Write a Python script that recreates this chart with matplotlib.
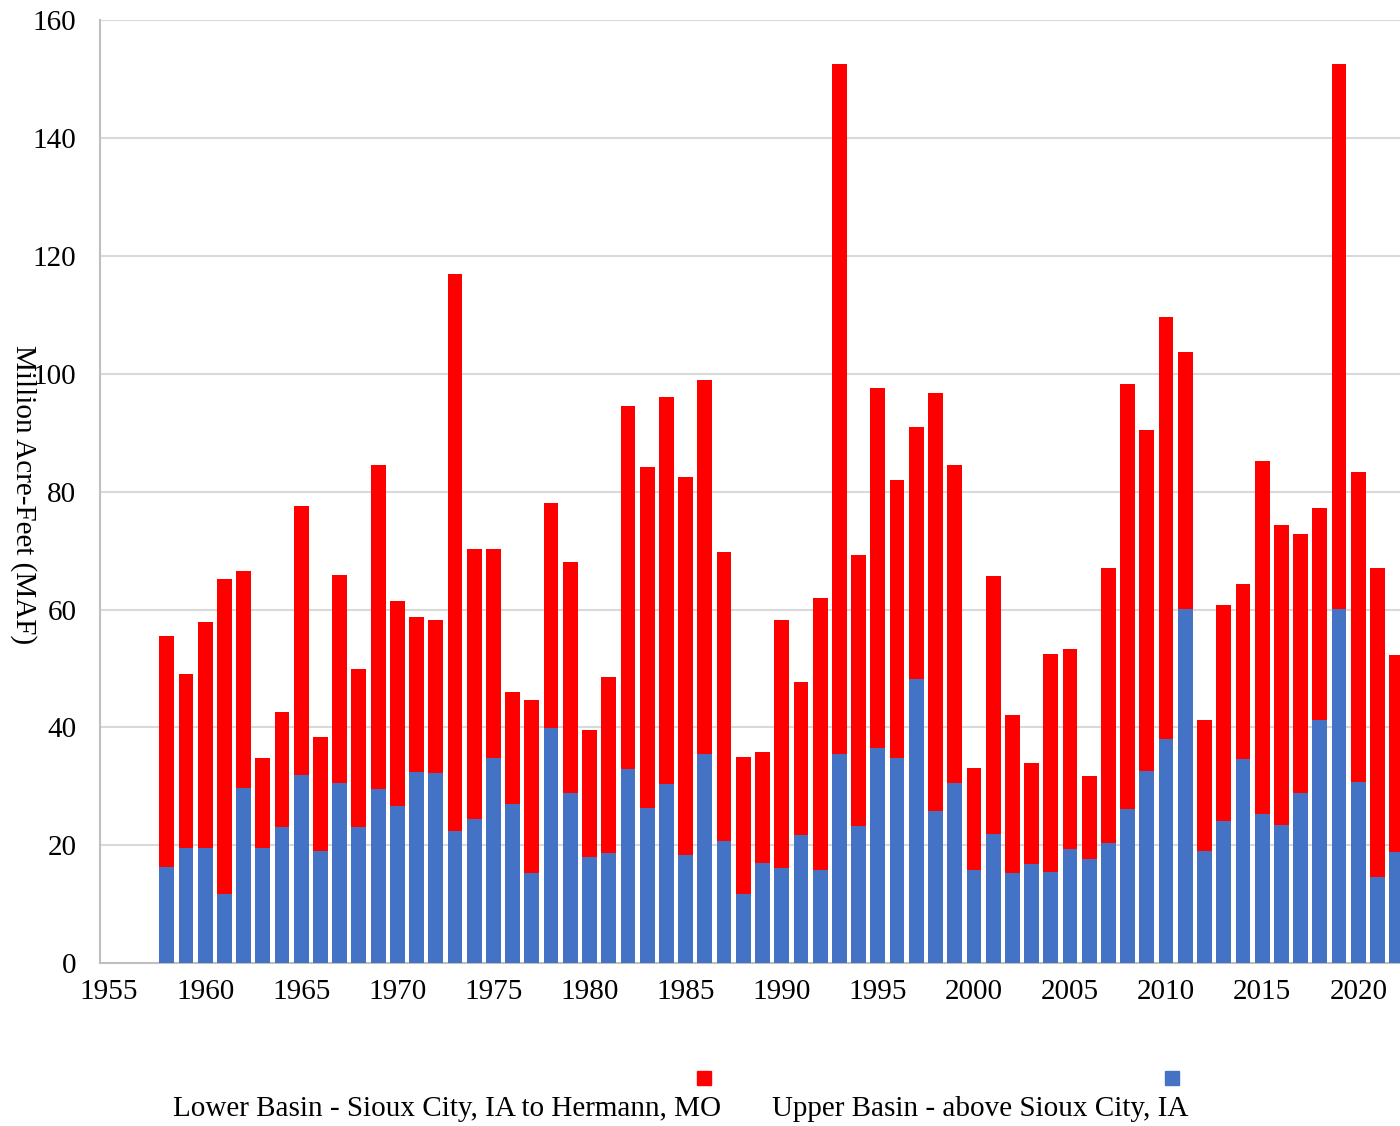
import matplotlib
matplotlib.use("Agg")
import matplotlib.pyplot as plt
from matplotlib.patches import Rectangle
import numpy as np

plt.rcParams['font.family'] = ['Liberation Serif', 'DejaVu Serif']

years = list(range(1958, 2023))
upper = [16.4, 19.5, 19.5, 11.8, 29.7, 19.6, 23.1, 31.9, 19.1, 30.5,
         23.1, 29.5, 26.7, 32.4, 32.2, 22.5, 24.4, 34.9, 27.1, 15.4,
         39.9, 28.9, 18.0, 18.7, 32.9, 26.3, 30.4, 18.3, 35.5, 20.7,
         11.8, 17.0, 16.1, 21.7, 15.8, 35.5, 23.3, 36.5, 34.9, 48.3,
         25.8, 30.5, 15.8, 21.9, 15.3, 16.8, 15.5, 19.4, 17.7, 20.4,
         26.1, 32.7, 38.1, 60.1, 19.1, 24.1, 34.7, 25.3, 23.5, 28.9,
         41.3, 60.1, 30.7, 14.6, 18.8]
total = [55.5, 49.1, 57.9, 65.1, 66.5, 34.9, 42.6, 77.6, 38.4, 65.9,
         49.9, 84.6, 61.4, 58.7, 58.3, 117.0, 70.2, 70.2, 46.1, 44.6,
         78.0, 68.1, 39.5, 48.6, 94.6, 84.2, 96.0, 82.5, 98.9, 69.7,
         35.0, 35.9, 58.3, 47.7, 61.9, 152.6, 69.3, 97.6, 82.0, 90.9,
         96.8, 84.6, 33.2, 65.7, 42.1, 34.0, 52.5, 53.3, 31.8, 67.1,
         98.3, 90.5, 109.7, 103.7, 41.3, 60.7, 64.3, 85.2, 74.3, 72.9,
         77.3, 152.6, 83.4, 67.1, 52.3]
lower = [t - u for t, u in zip(total, upper)]

labels = ["Lower Basin - Sioux City, IA to Hermann, MO",
          "Upper Basin - above Sioux City, IA"]
colors = ["#FF0000", "#4472C4"]

fig = plt.figure(figsize=(14, 11.26), dpi=100)
ax = fig.add_axes([100 / 1400, (1126 - 963.3) / 1126, 1 - 100 / 1400, (963.3 - 20) / 1126])

ax.bar(years, upper, width=0.77, color=colors[1], zorder=3)
ax.bar(years, lower, bottom=upper, width=0.77, color=colors[0], zorder=3)

ax.set_xlim(1954.53, 2022.17)
ax.set_ylim(0, 160)
ax.set_xticks(range(1955, 2021, 5))
ax.set_yticks(range(0, 161, 20))
ax.yaxis.grid(True, color="#d9d9d9", linewidth=1.5, zorder=0)
ax.tick_params(length=0, labelsize=21, colors="black")
ax.tick_params(axis="x", pad=11)
ax.tick_params(axis="y", pad=17)
for s in ["top", "right"]:
    ax.spines[s].set_visible(False)
for s in ["left", "bottom"]:
    ax.spines[s].set_color("#bfbfbf")
    ax.spines[s].set_linewidth(1.5)

fig.text(23 / 1400, 1 - 495 / 1126, "Million Acre-Feet (MAF)", rotation=270,
         ha="center", va="center", fontsize=21)

# legend: small square above the right end of each label
text_pos = [(447, 1109), (980, 1109)]
sq_right = [711, 1179]
for lab, col, (tx, ty), sr in zip(labels, colors, text_pos, sq_right):
    fig.text(tx / 1400, 1 - ty / 1126, lab, ha="center", va="center", fontsize=21)
    fig.patches.append(Rectangle(((sr - 14) / 1400, 1 - 1085 / 1126), 14 / 1400, 14 / 1126,
                                 transform=fig.transFigure, color=col, figure=fig))

fig.savefig("out.png", dpi=100)
